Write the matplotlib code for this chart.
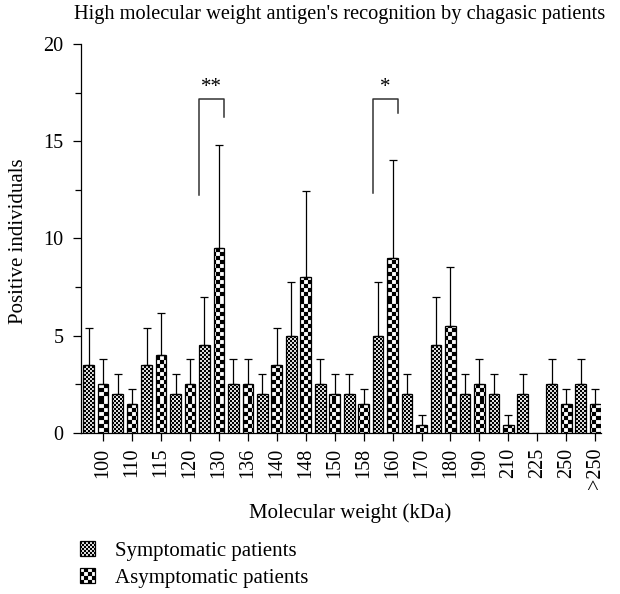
import numpy as np
import matplotlib
matplotlib.use("Agg")
import matplotlib.pyplot as plt
from matplotlib import hatch as mhatch
from matplotlib.path import Path

# molecular weight bands and mean positive individuals (+ upper error)
labels = ['100', '110', '115', '120', '130', '136', '140', '148', '150',
          '158', '160', '170', '180', '190', '210', '225', '250', '>250']
sympt = [3.5, 2, 3.5, 2, 4.5, 2.5, 2, 5, 2.5, 2, 5, 2, 4.5, 2, 2, 2, 2.5, 2.5]
sympt_err = [1.87, 1.04, 1.87, 1.04, 2.46, 1.31, 1.04, 2.77, 1.31, 1.04,
             2.77, 1.04, 2.46, 1.04, 1.04, 1.04, 1.31, 1.31]
asympt = [2.5, 1.5, 4, 2.5, 9.5, 2.5, 3.5, 8, 2, 1.5, 9, 0.4, 5.5, 2.5,
          0.4, 0, 1.5, 1.5]
asympt_err = [1.31, 0.75, 2.16, 1.31, 5.32, 1.31, 1.9, 4.45, 1.04, 0.75,
              5.05, 0.53, 3.04, 1.31, 0.53, 0, 0.75, 0.75]

# significance brackets: category, left leg bottom, top, right leg bottom, text
brackets = [('130', 12.23, 17.15, 16.26, '**'),
            ('160', 12.32, 17.19, 16.44, '*')]


class Checker(mhatch.HatchPatternBase):
    '''checkerboard hatch, reusing the o / O hatch letters'''

    def __init__(self, hatch, density, char='o'):
        self.n = int(hatch.count(char) * 5)
        self.cells = [(i, j) for i in range(self.n) for j in range(self.n)
                      if (i + j) % 2 == 0]
        self.num_vertices = len(self.cells) * 5

    def set_vertices_and_codes(self, vertices, codes):
        s = 1.0 / self.n
        for k, (i, j) in enumerate(self.cells):
            x0, y0 = i * s, j * s
            vertices[k*5:k*5+5] = [(x0, y0), (x0 + s, y0), (x0 + s, y0 + s),
                                   (x0, y0 + s), (x0, y0)]
            codes[k*5] = Path.MOVETO
            codes[k*5+1:k*5+4] = Path.LINETO
            codes[k*5+4] = Path.CLOSEPOLY


class CheckerBig(Checker):
    def __init__(self, hatch, density):
        super().__init__(hatch, density, char='O')


mhatch._hatch_types = [t for t in mhatch._hatch_types
                       if t not in (mhatch.SmallCircles, mhatch.LargeCircles)]
mhatch._hatch_types += [Checker, CheckerBig]

plt.rcParams['font.family'] = ['Liberation Serif', 'DejaVu Serif']
plt.rcParams['font.size'] = 15
plt.rcParams['hatch.linewidth'] = 0.1
plt.rcParams['hatch.color'] = 'black'

fig = plt.figure(figsize=(6.2, 5.94), dpi=100)
ax = fig.add_axes([81/620, 1 - 432.7/594, 520/620, 388.7/594])

x = np.arange(len(labels))
width = 0.37
b1 = ax.bar(x - 0.5, sympt, width, color='white', edgecolor='black',
            linewidth=0.9, hatch='o' * 10, label='Symptomatic patients')
b2 = ax.bar(x, asympt, width, color='white', edgecolor='black',
            linewidth=0.9, hatch='O' * 5, label='Asymptomatic patients')

se = np.array(sympt_err)
ae = np.array(asympt_err)
ax.errorbar(x - 0.5, sympt, yerr=[np.zeros_like(se), se], fmt='none',
            ecolor='black', elinewidth=0.9, capsize=3, capthick=0.9)
m = ae > 0
ax.errorbar(x[m], np.array(asympt)[m], yerr=[np.zeros(m.sum()), ae[m]],
            fmt='none', ecolor='black', elinewidth=0.9, capsize=3,
            capthick=0.9)

for cat, yl, yt, yr, txt in brackets:
    i = labels.index(cat)
    xl = i - 0.5 - width / 2
    xr = i + width / 2
    ax.plot([xl, xl, xr, xr], [yl, yt, yt, yr], color='#333333', lw=1.1)
    ax.text((xl + xr) / 2, yt + 0.1, txt, ha='center', va='bottom',
            fontsize=15)

ax.set_xlim(-0.765, 17.2)
ax.set_ylim(0, 20)
ax.set_yticks([0, 5, 10, 15, 20])
ax.set_yticks(np.arange(2.5, 20, 5), minor=True)
ax.set_xticks(x)
ax.set_xticklabels(labels, rotation=90)
ax.tick_params(axis='both', which='major', direction='out', length=6,
               width=0.9, labelsize=14.5)
ax.tick_params(axis='y', which='minor', direction='out', length=4, width=0.9)
ax.tick_params(axis='y', pad=6.5)
ax.tick_params(axis='x', pad=5)
for s in ['top', 'right']:
    ax.spines[s].set_visible(False)
for s in ['left', 'bottom']:
    ax.spines[s].set_linewidth(0.9)

ax.set_ylabel('Positive individuals', va='center')
ax.yaxis.set_label_coords(-0.121, 0.493)
ax.set_xlabel('Molecular weight (kDa)', va='center')
ax.xaxis.set_label_coords(0.517, -0.2066)
fig.text(339.5/620, 1 - 14/594,
         "High molecular weight antigen's recognition by chagasic patients",
         ha='center', va='center', fontsize=14.7)

fig.legend(handles=[b1, b2], loc='upper left',
           bbox_to_anchor=(80/620, 1 - 541/594), frameon=False,
           handlelength=0.72, handleheight=0.72, handletextpad=0.96,
           labelspacing=0.35, borderaxespad=0, borderpad=0)

fig.savefig('out.png', dpi=100)
